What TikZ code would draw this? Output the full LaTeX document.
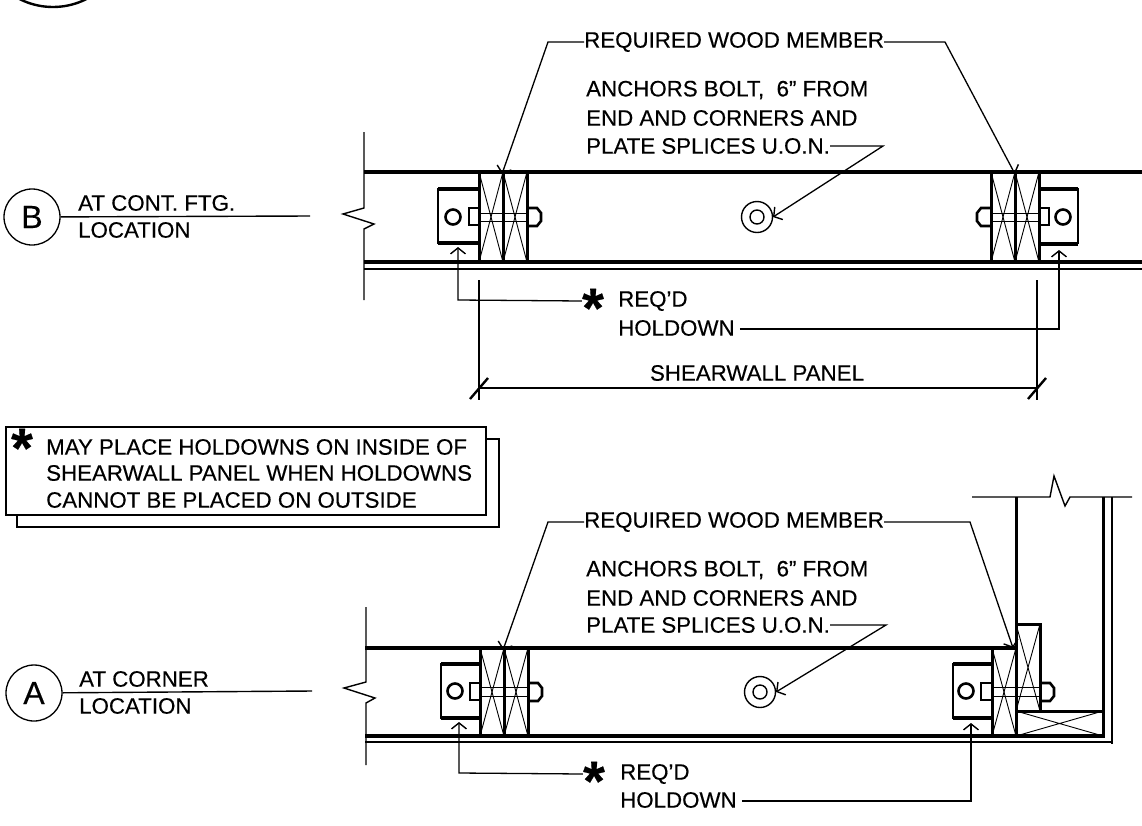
\documentclass[tikz,border=0pt]{standalone}
\usepackage{fontspec}
\setmainfont[FakeBold=0.35]{Liberation Sans}
\usepackage{tikz}
\usetikzlibrary{
    arrows.meta,
    calc,
    positioning
}
\newcommand{\holdstar}{\raisebox{-0.47em}[0pt][0pt]{*}}
\tikzset{
    wall/.style={line width=3.6pt},
    stud/.style={line width=3pt},
    hold/.style={line width=2pt},
    thinline/.style={line width=1.4pt},
    hair/.style={line width=0.9pt},
    leader/.style={line width=1.3pt, -{Straight Barb[length=6pt,width=15pt,line width=1.4pt]}},
    notetext/.style={anchor=west, inner sep=0pt, font=\fontsize{22.3}{24}\selectfont},
    sectionmark/.style={draw, circle, line width=1.3pt, minimum size=56pt, inner sep=0pt, font=\fontsize{32}{34}\selectfont},
    starmark/.style={inner sep=0pt, font=\fontsize{56}{58}\selectfont\bfseries}
}

\begin{document}
\begin{tikzpicture}[x=1pt, y=-1pt]
    \useasboundingbox (0, 0) rectangle (1142, 825);
    \fill[white] (0, 0) rectangle (1142, 825);

    % cut-off mark at the top
    \draw[line width=2.4pt] (53, -67) circle (74);

    % section B
    \node[sectionmark] (mb) at (32, 217) {B};
    \node[notetext] (bcont) at (78, 203) {AT CONT. FTG.};
    \node[notetext] (bloc) at (78, 230) {LOCATION};
    \coordinate (bend) at (310, 216);
    \draw[thinline] (mb) -- (bend);

    \draw[thinline] (364, 132) -- (364, 208) -- (343, 214) -- (374, 224) -- (364, 229) -- (364, 300);
    \draw[wall] (364, 172) -- (1142, 172);
    \draw[wall] (364, 262) -- (1142, 262);
    \draw[thinline] (364, 269) -- (1142, 269);

    \foreach \x in {479, 503, 527, 991, 1015, 1039}
        \draw[stud] (\x, 172) -- (\x, 262);
    \foreach \x/\xx in {479/503, 503/527, 991/1015, 1015/1039} {
        \draw[hair] (\x, 172) -- (\xx, 262);
        \draw[hair] (\xx, 172) -- (\x, 262);
    }

    % holdowns
    \draw[hold] (479, 189) -- (438, 189) -- (438, 243) -- (479, 243);
    \draw[hold] (1039, 189) -- (1078, 189) -- (1078, 243) -- (1039, 243);
    \draw[wall] (438, 189) -- (479, 189) (438, 243) -- (479, 243) (1039, 189) -- (1078, 189) (1039, 244) -- (1078, 244);
    \draw[hold, line width=2.6pt] (453, 217) circle (7.5);
    \draw[hold, line width=2.6pt] (1063, 217) circle (7.5);

    % bolts
    \draw[hold] (479, 208) -- (469, 208) -- (469, 225) -- (479, 225);
    \draw[hold] (1039, 208) -- (1049, 208) -- (1049, 225) -- (1039, 225);
    \draw[hair] (479, 213) -- (527, 213) (479, 221) -- (527, 221);
    \draw[hair] (991, 213) -- (1039, 213) (991, 221) -- (1039, 221);
    \draw[hold, line width=2.6pt] (527, 208) -- (537, 208) -- (541, 213) -- (541, 221) -- (537, 226) -- (527, 226);
    \draw[hold, line width=2.6pt] (991, 208) -- (981, 208) -- (977, 213) -- (977, 221) -- (981, 226) -- (991, 226);

    \draw[thinline] (757, 217) circle (15.5);
    \draw[thinline] (757, 217) circle (7);

    % notes of section B
    \node[notetext] (bmember) at (584, 42) {REQUIRED WOOD MEMBER};
    \node[notetext] (banchor) at (586, 90) {ANCHORS BOLT,\ \ 6" FROM};
    \node[notetext] (bend2) at (586, 118) {END AND CORNERS AND};
    \node[notetext] (bplate) at (586, 146) {PLATE SPLICES U.O.N.};
    \coordinate (bml) at (548, 42);
    \coordinate (bmr) at (945, 42);
    \coordinate (bpk) at (883, 146);
    \draw[leader] (bmember.west) -- (bml) -- (502, 174);
    \draw[leader] (bmember.east) -- (bmr) -- (1015, 174);
    \draw[leader] (bplate.east) -- (bpk) -- (773, 217);

    \node[starmark] (bstar) at (593, 301) {\holdstar};
    \node[notetext] (breq) at (618, 301) {REQ'D};
    \node[notetext] (bhold) at (618, 328) {HOLDOWN};
    \coordinate (bh1) at (458, 300);
    \coordinate (bh2) at (1059, 329);
    \draw[leader] (bstar.west) -- (bh1) -- (458, 247);
    \draw[leader] (bhold.east) ++(5, 1) -- (bh2) -- (1059, 250);

    % shearwall dimension
    \node[inner sep=0pt, font=\fontsize{22.3}{24}\selectfont] (span) at (757, 373) {SHEARWALL PANEL};
    \coordinate (dl) at (479, 388);
    \coordinate (dr) at (1037, 388);
    \draw[thinline] (dl) -- (dr);
    \draw[thinline] (479, 280) -- (479, 400) (1037, 280) -- (1037, 400);
    \draw[line width=2.4pt] (470, 399) -- (488, 378) (1028, 399) -- (1046, 378);

    % boxed note
    \draw[thinline] (486, 439) -- (499, 439) -- (499, 527) -- (17, 527) -- (17, 515);
    \draw[thinline] (6, 427) rectangle (486, 515);
    \node[starmark] (nstar) at (22, 441) {\holdstar};
    \node[notetext] (n1) at (46, 447) {MAY PLACE HOLDOWNS ON INSIDE OF};
    \node[notetext] (n2) at (46, 473) {SHEARWALL PANEL WHEN HOLDOWNS};
    \node[notetext] (n3) at (46, 500) {CANNOT BE PLACED ON OUTSIDE};

    % section A
    \node[sectionmark] (ma) at (34, 693) {A};
    \node[notetext] (acor) at (79, 679) {AT CORNER};
    \node[notetext] (aloc) at (79, 706) {LOCATION};
    \coordinate (aend) at (312, 691);
    \draw[thinline] (ma) -- (aend);

    \draw[thinline] (366, 607) -- (366, 682) -- (344, 688) -- (375, 698) -- (366, 703) -- (366, 765);
    \draw[wall] (365, 648) -- (1016, 648);
    \draw[wall] (365, 736) -- (1105, 736);
    \draw[thinline] (365, 742) -- (1112, 742);

    \foreach \x in {480, 504, 528, 992, 1016}
        \draw[stud] (\x, 648) -- (\x, 736);
    \foreach \x/\xx in {480/504, 504/528, 992/1016} {
        \draw[hair] (\x, 648) -- (\xx, 736);
        \draw[hair] (\xx, 648) -- (\x, 736);
    }

    % corner framing
    \draw[thinline] (972, 497) -- (1050, 497) -- (1054, 476) -- (1065, 506) -- (1070, 497) -- (1132, 497);
    \draw[stud] (1016, 497) -- (1016, 736);
    \draw[stud] (1103, 497) -- (1103, 736);
    \draw[thinline] (1112, 497) -- (1112, 744);
    \draw[stud] (1016, 624) -- (1040, 624) -- (1040, 711);
    \draw[stud] (1016, 711) -- (1103, 711);
    \draw[hair] (1016, 624) -- (1040, 711) (1040, 624) -- (1016, 711);
    \draw[hair] (1016, 711) -- (1103, 736) (1103, 711) -- (1016, 736);

    % holdowns
    \draw[hold] (480, 664) -- (441, 664) -- (441, 718) -- (480, 718);
    \draw[hold] (992, 664) -- (953, 664) -- (953, 718) -- (992, 718);
    \draw[wall] (441, 664) -- (480, 664) (441, 718) -- (480, 718) (953, 664) -- (992, 664) (953, 718) -- (992, 718);
    \draw[hold, line width=2.6pt] (455, 691) circle (7.5);
    \draw[hold, line width=2.6pt] (966, 691) circle (7.5);

    % bolts
    \draw[hold] (480, 683) -- (470, 683) -- (470, 700) -- (480, 700);
    \draw[hold] (992, 683) -- (981, 683) -- (981, 700) -- (992, 700);
    \draw[hair] (480, 687) -- (528, 687) (480, 696) -- (528, 696);
    \draw[hair] (992, 687) -- (1040, 687) (992, 696) -- (1040, 696);
    \draw[hold, line width=2.6pt] (528, 683) -- (538, 683) -- (542, 688) -- (542, 696) -- (538, 701) -- (528, 701);
    \draw[hold, line width=2.6pt] (1040, 683) -- (1050, 683) -- (1054, 688) -- (1054, 696) -- (1050, 701) -- (1040, 701);

    \draw[thinline] (760, 692) circle (15.5);
    \draw[thinline] (760, 692) circle (7);

    % notes of section A
    \node[notetext] (amember) at (584, 522) {REQUIRED WOOD MEMBER};
    \node[notetext] (aanchor) at (586, 570) {ANCHORS BOLT,\ \ 6" FROM};
    \node[notetext] (aend2) at (586, 598) {END AND CORNERS AND};
    \node[notetext] (aplate) at (586, 625) {PLATE SPLICES U.O.N.};
    \coordinate (aml) at (548, 522);
    \coordinate (amr) at (970, 522);
    \coordinate (apk) at (886, 625);
    \draw[leader] (amember.west) -- (aml) -- (503, 650);
    \draw[leader] (amember.east) -- (amr) -- (1013, 648);
    \draw[leader] (aplate.east) -- (apk) -- (776, 692);

    \node[starmark] (astar) at (594, 774) {\holdstar};
    \node[notetext] (areq) at (620, 774) {REQ'D};
    \node[notetext] (ahold) at (620, 800) {HOLDOWN};
    \coordinate (ah1) at (459, 773);
    \coordinate (ah2) at (971, 801);
    \draw[leader] (astar.west) -- (ah1) -- (459, 722);
    \draw[leader] (ahold.east) ++(5, 1) -- (ah2) -- (971, 723);
\end{tikzpicture}
\end{document}
